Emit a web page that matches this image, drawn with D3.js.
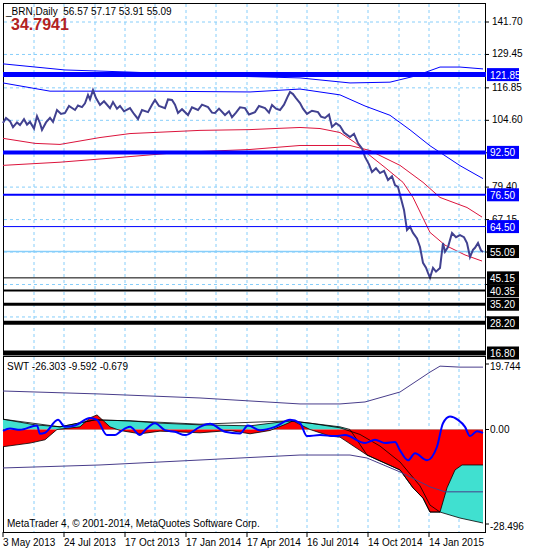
<!DOCTYPE html>
<html><head><meta charset="utf-8">
<script src="https://cdn.jsdelivr.net/npm/d3@7"></script>
<style>body{margin:0;background:#fff}svg{display:block}text{font-family:"Liberation Sans",Arial,sans-serif}</style>
</head><body><svg id="c" width="550" height="550"></svg>
<script>
// ---- data (bar index, value) ----
const priceBars=[0,3,7,10,14,17,21,24,27,31,34,37,39,43,47,50,54,58,62,66,72,75,79,82,85,87,90,93,97,101,107,110,114,117,121,127,131,135,139,145,149,152,156,162,165,169,172,175,179,185,189,195,199,205,209,212,216,222,226,229,233,237,242,246,252,256,262,266,269,273,277,281,285,287,290,293,297,300,304,309,315,318,322,326,329,333,337,341,347,351,355,359,362,366,369,373,377,381,385,389,392,395,397,401,404,407,410,414,417,420,423,425,427,430,433,437,440,442,445,449,453,457,461,464,467,470,472,475,478,480];
const priceVals=[103.6,105.5,104.3,102.0,103.8,102.8,105.0,103.0,104,101.5,106.2,103.5,101,103.8,105.5,104.0,108.5,107.0,107.4,110.0,108.5,110.2,109.6,111.0,114.2,112.5,116,113.0,110.4,111.8,109.2,111.5,109.0,110,108.0,109.2,107.0,105.1,108.5,107.7,110.5,112.3,110.0,109.2,112.5,112.3,110.5,107.4,108.8,106.6,109.5,108.5,110.5,109.6,107.5,107.4,109.0,106.6,108.0,105.8,107.5,109.5,109.2,106.8,107.7,110.0,109.2,107.5,110.4,109.0,108.5,110.5,113.8,115.3,114.5,113.0,111.1,109.0,107,108.2,107.7,106.0,105.5,106.8,102.1,103.5,102.5,100.0,98.3,99.5,96,94.0,90.8,88.0,85.1,86.5,84.7,85.5,82.1,83.5,80.2,79.5,76.5,70.8,63.2,64.5,62.1,60.0,56.8,50.8,49.0,47.0,45.2,48.9,47.5,48.9,58.3,55.0,56.8,62.1,60.5,61.3,60.5,58.3,53.0,55.7,56.5,58.3,55.5,54.9];
const envUpBars=[0,62,127,227,297,347,387,412,437,457,480];
const envUpVals=[125.9,123.6,122.8,121.3,120.6,118.7,119.0,121.3,124.7,124.7,124.0];
const envMidBars=[0,47,147,247,297,337,362,387,407,427,457,480];
const envMidVals=[118.7,115.6,115.6,115.3,116.4,114.2,110,106.5,101,95,87.5,82.6];
const fastBars=[0,32,57,97,127,197,247,297,317,337,352,367,382,400,410,427,442,462,479];
const fastVals=[97.8,95.9,95.5,98.1,99.6,100.8,101.1,101.9,101.5,100.0,96.2,91.3,86.8,81.2,75.5,62.3,57.5,53.8,51.5];
const slowBars=[0,57,117,177,247,297,347,367,377,397,420,437,464,479];
const slowVals=[87.6,88.8,90.6,92.5,93.6,95.1,95.1,93.2,91.3,87.6,81.2,75.5,71.7,68.1];
const gridPrices=[141.70,129.45,116.85,104.60,92.35,79.40,67.15,54.90,42.65,30.40];
const gridLabels=["141.70","129.45","116.85","104.60","","79.40","67.15","","",""];
const levels=[{v:121.85,c:"#0000ff",w:5},{v:92.50,c:"#0000ff",w:4},{v:76.50,c:"#0000ff",w:2},{v:64.50,c:"#0000ff",w:1},{v:45.15,c:"#000",w:1},{v:40.35,c:"#000",w:2},{v:35.20,c:"#000",w:3},{v:28.20,c:"#000",w:4},{v:16.80,c:"#000",w:5}];
const lastPrice=55.09;
// oscillator
const oscBandUpBars=[0,97,197,297,337,362,397,427,437,457,480];
const oscBandUpVals=[11.6,10.7,9.5,7.7,7.7,8.3,11.3,17.3,19.1,18.8,18.8];
const oscBandLoBars=[0,97,197,297,347,364,397,427,442,480];
const oscBandLoVals=[-11.6,-10.7,-9.2,-7.7,-7.7,-8.6,-12.8,-17.3,-18.8,-18.8];
const redBars=[0,27,42,54,77,87,94,107,117,137,157,197,227,247,267,282,290,297,307,327,337,364,397,410,420,427,437,444,452,459,480];
const redVals=[-5.2,-4.1,-3.1,0,0.8,3.5,4.4,0.8,-0.3,-1.3,-0.5,-1.0,-0.3,-1.3,-0.3,1.5,2.6,1.5,0,-2.0,-2.3,-7.7,-12.2,-17.6,-20.7,-24.9,-24.9,-17.6,-12.2,-10.7,-10.7];
const cyanBars=[0,32,57,92,127,157,197,247,287,307,337,347,364,397,410,420,427,437,457,480];
const cyanVals=[3.1,1.4,0.8,2.9,2.6,1.9,1.4,1.1,2.6,1.9,0.8,0,-7.7,-12.2,-17.6,-20.7,-24.9,-24.9,-26.7,-28.2];
const sigBars=[0,57,92,127,197,287,307,337,357,377,397,417,427,437];
const sigVals=[3.1,0.8,2.9,2.6,1.6,2.6,1.9,0.5,-1.5,-5,-9.8,-17,-22.8,-24.9];
const wBars=[0,7,17,34,37,42,55,62,72,87,94,104,112,117,127,137,142,152,162,172,182,197,207,222,237,245,257,272,287,297,304,317,332,342,362,372,382,392,397,405,412,424,434,440,447,455,462,467,474,480];
const wVals=[-0.4,0.3,-0.1,1.2,-1.3,-1.0,2.9,0.8,1.2,3.5,2.9,-1.7,-1.7,-0.7,0.8,-1.7,-0.2,1.9,-0.2,-0.7,-1.7,0.8,1.7,-0.7,-1.2,1.2,-0.2,0.8,2.9,1.9,-2.0,-1.7,-2.0,-1.7,-4.1,-3.1,-4.1,-3.8,-6.3,-9.3,-7.2,-9.3,-5.2,1.9,3.9,2.9,0.8,-2.0,-0.5,-1.0];
const gridBars=[31,61,92,122,152,183,213,244,274,304,335,365,396,426,456];
const dateBars=[0,61,122,183,244,304,365,426];
const dateLabels=["3 May 2013","24 Jul 2013","17 Oct 2013","17 Jan 2014","17 Apr 2014","16 Jul 2014","14 Oct 2014","14 Jan 2015"];
const oscTicks=[19.744,0.00,-28.496];

const svg=d3.select("#c");
const x=d3.scaleLinear().domain([0,480]).range([3,483]);
const y=d3.scaleLinear().domain([16.80,141.70]).range([353,22]);
const yo=d3.scaleLinear().domain([-28.496,19.744]).range([524,364]);
const zip=(b,v)=>b.map((d,i)=>[d,v[i]]);
const L=(ys)=>d3.line().x(d=>x(d[0])).y(d=>ys(d[1]));
const FS=10;

svg.append("rect").attr("x",3.5).attr("y",3.5).attr("width",482).attr("height",349).attr("fill","none").attr("stroke","#000");
svg.append("rect").attr("x",3.5).attr("y",356.5).attr("width",482).attr("height",176).attr("fill","none").attr("stroke","#000");

const dash="3,3";
gridBars.forEach(b=>{
  svg.append("line").attr("x1",x(b)).attr("x2",x(b)).attr("y1",4).attr("y2",352).attr("stroke","#87cefa").attr("stroke-dasharray",dash);
  svg.append("line").attr("x1",x(b)).attr("x2",x(b)).attr("y1",357).attr("y2",532).attr("stroke","#87cefa").attr("stroke-dasharray",dash);
});
gridPrices.forEach((p,i)=>{
  svg.append("line").attr("x1",4).attr("x2",485).attr("y1",y(p)).attr("y2",y(p)).attr("stroke","#87cefa").attr("stroke-dasharray",dash);
  svg.append("line").attr("x1",485).attr("x2",489).attr("y1",y(p)).attr("y2",y(p)).attr("stroke","#000");
  if(gridLabels[i]) svg.append("text").attr("x",492).attr("y",y(p)+3).attr("font-size",FS).text(gridLabels[i]);
});

svg.append("path").datum(zip(envUpBars,envUpVals)).attr("d",L(y)).attr("fill","none").attr("stroke","#0000ff").attr("stroke-width",1);
svg.append("path").datum(zip(envMidBars,envMidVals)).attr("d",L(y)).attr("fill","none").attr("stroke","#0000ff").attr("stroke-width",1);
svg.append("path").datum(zip(fastBars,fastVals)).attr("d",L(y)).attr("fill","none").attr("stroke","#dc143c").attr("stroke-width",1);
svg.append("path").datum(zip(slowBars,slowVals)).attr("d",L(y)).attr("fill","none").attr("stroke","#dc143c").attr("stroke-width",1);

svg.append("line").attr("x1",4).attr("x2",485).attr("y1",y(lastPrice)).attr("y2",y(lastPrice)).attr("stroke","#87cefa").attr("stroke-width",1.5);
svg.append("path").datum(zip(priceBars,priceVals)).attr("d",L(y)).attr("fill","none").attr("stroke","#414190").attr("stroke-width",2);

levels.forEach(l=>{
  svg.append("line").attr("x1",3).attr("x2",486).attr("y1",y(l.v)).attr("y2",y(l.v)).attr("stroke",l.c).attr("stroke-width",l.w);
});
levels.concat([{v:lastPrice,c:"#000"}]).forEach(l=>{
  svg.append("rect").attr("x",487).attr("y",y(l.v)-6.5).attr("width",32).attr("height",13).attr("fill",l.c);
  svg.append("text").attr("x",490).attr("y",y(l.v)+4).attr("font-size",FS).attr("fill","#fff").text(l.v.toFixed(2));
});

svg.append("text").attr("x",6).attr("y",15).attr("font-size",FS).attr("xml:space","preserve").text("_BRN,Daily  56.57 57.17 53.91 55.09");
svg.append("text").attr("x",11).attr("y",30).attr("font-size",16).attr("font-weight","bold").attr("fill","#b22222").text("34.7941");

const area=(b,v)=>d3.area().x(d=>x(d[0])).y0(yo(0)).y1(d=>yo(d[1]))(zip(b,v));
svg.append("path").attr("d",area(cyanBars,cyanVals)).attr("fill","#40e0d0");
svg.append("path").attr("d",area(redBars,redVals)).attr("fill","#ff0000");
svg.append("path").datum(zip(cyanBars,cyanVals)).attr("d",L(yo)).attr("fill","none").attr("stroke","#000").attr("stroke-width",0.8);
svg.append("path").datum(zip(redBars,redVals)).attr("d",L(yo)).attr("fill","none").attr("stroke","#000").attr("stroke-width",0.8);
svg.append("path").datum(zip(sigBars,sigVals)).attr("d",L(yo)).attr("fill","none").attr("stroke","#000").attr("stroke-width",0.8);
svg.append("path").datum(zip(oscBandUpBars,oscBandUpVals)).attr("d",L(yo)).attr("fill","none").attr("stroke","#483d8b").attr("stroke-width",1);
svg.append("path").datum(zip(oscBandLoBars,oscBandLoVals)).attr("d",L(yo)).attr("fill","none").attr("stroke","#483d8b").attr("stroke-width",1);
svg.append("path").datum(zip(wBars,wVals)).attr("d",L(yo).curve(d3.curveMonotoneX)).attr("fill","none").attr("stroke","#0000ff").attr("stroke-width",2);
svg.append("text").attr("x",7).attr("y",370).attr("font-size",FS).text("SWT -26.303 -9.592 -0.679");
svg.append("text").attr("x",7).attr("y",527).attr("font-size",FS).text("MetaTrader 4, © 2001-2014, MetaQuotes Software Corp.");
const otY=[366,429,526];
oscTicks.forEach((t,i)=>{
  svg.append("line").attr("x1",485).attr("x2",489).attr("y1",yo(t)).attr("y2",yo(t)).attr("stroke","#000");
  svg.append("text").attr("x",490).attr("y",otY[i]+4).attr("font-size",FS).text(t.toFixed(t===0?2:3));
});

dateBars.forEach((b,i)=>{
  svg.append("line").attr("x1",x(b)).attr("x2",x(b)).attr("y1",532).attr("y2",537).attr("stroke","#000");
  svg.append("text").attr("x",x(b)).attr("y",546).attr("font-size",FS).text(dateLabels[i]);
});
</script></body></html>
